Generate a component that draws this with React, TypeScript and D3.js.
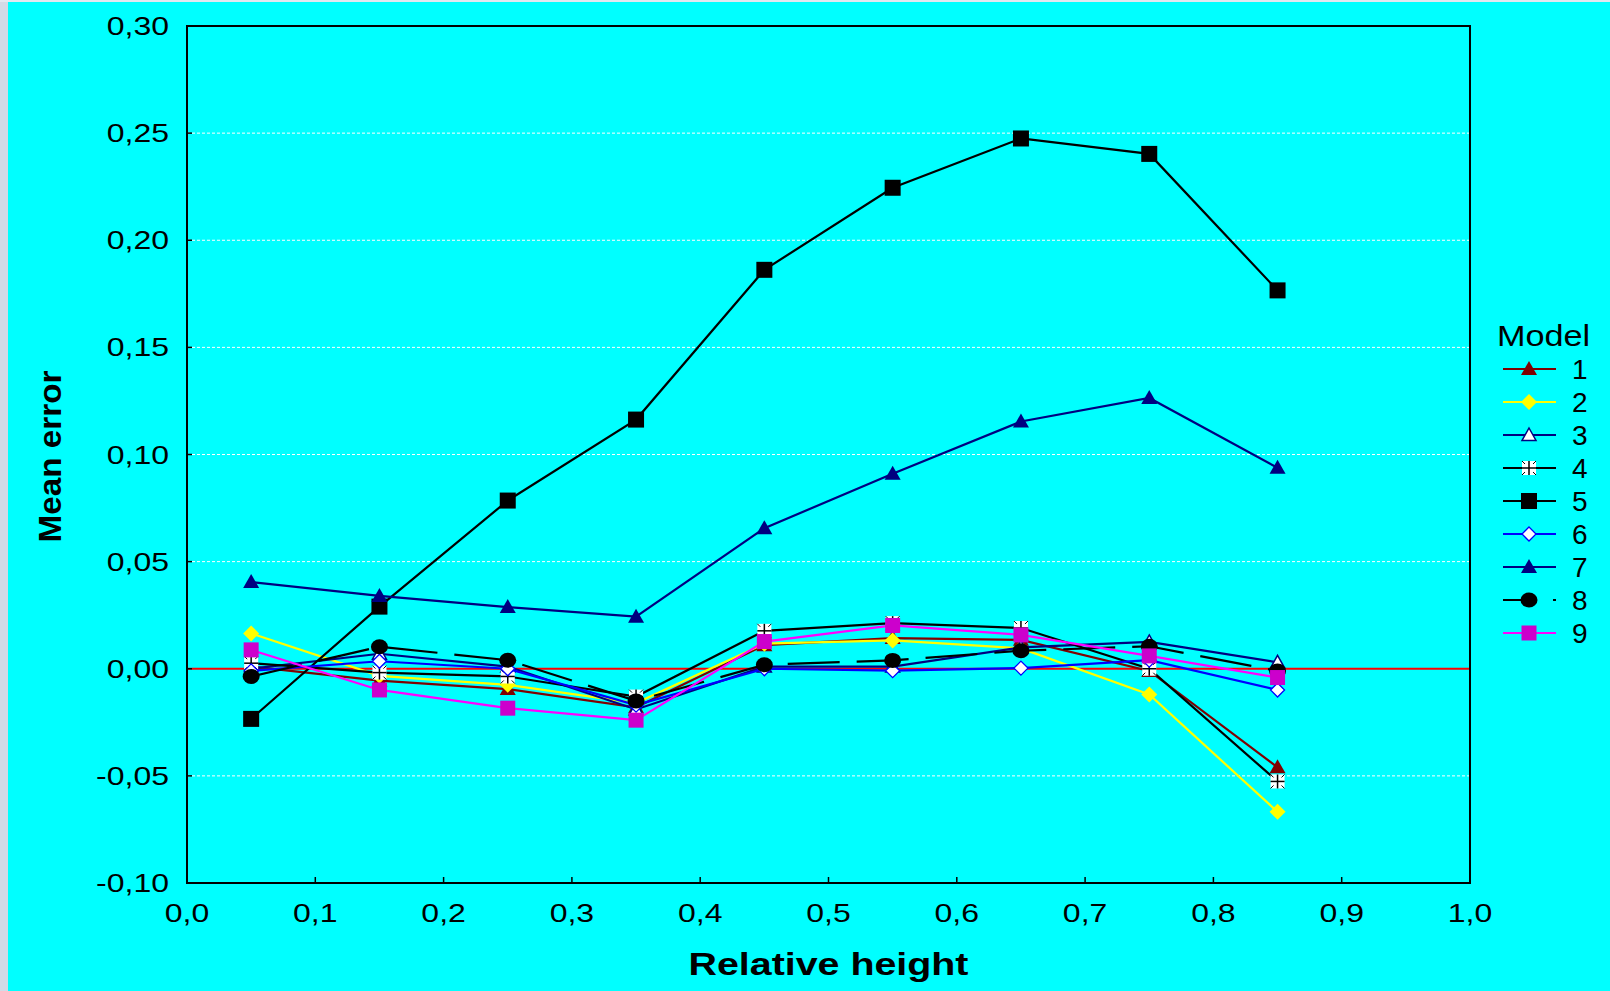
import React from "react";
import * as d3 from "d3";

// relative height positions where the models were evaluated
const heights = [0.05, 0.15, 0.25, 0.35, 0.45, 0.55, 0.65, 0.75, 0.85];

// mean error per model
const model1 = [0.001, -0.0055, -0.0095, -0.018, 0.011, 0.0143, 0.0135, -0.001, -0.046];
const model2 = [0.0165, -0.0033, -0.0075, -0.016, 0.0117, 0.0132, 0.0095, -0.012, -0.0668];
const model3 = [0.0, 0.007, 0.001, -0.019, 0.001, 0.001, 0.01, 0.0125, 0.003];
const model4 = [0.0026, -0.0018, -0.0036, -0.013, 0.0177, 0.0213, 0.019, 0.0, -0.0526];
const model5 = [-0.0234, 0.029, 0.0785, 0.1163, 0.1862, 0.2245, 0.2475, 0.2403, 0.1766];
const model6 = [-0.001, 0.0035, 0.0, -0.017, 0.0, -0.0009, 0.0003, 0.004, -0.0099];
const model7 = [0.0405, 0.034, 0.0288, 0.0243, 0.0656, 0.091, 0.1154, 0.1264, 0.0938];
const model8 = [-0.0036, 0.0103, 0.004, -0.015, 0.0019, 0.0039, 0.0084, 0.0105, -0.001];
const model9 = [0.0088, -0.0099, -0.0184, -0.024, 0.0127, 0.0202, 0.0158, 0.006, -0.0041];

const modelNames = ["1", "2", "3", "4", "5", "6", "7", "8", "9"];
const yTicks = [-0.1, -0.05, 0, 0.05, 0.1, 0.15, 0.2, 0.25, 0.3];
const xTicks = [0, 0.1, 0.2, 0.3, 0.4, 0.5, 0.6, 0.7, 0.8, 0.9, 1.0];

const series = [
  { name: modelNames[0], values: model1, color: "#800000", marker: "triFill", fill: "#800000" },
  { name: modelNames[1], values: model2, color: "#FFFF00", marker: "diamond", fill: "#FFFF00" },
  { name: modelNames[2], values: model3, color: "#000080", marker: "triOpen", fill: "#FFFFFF" },
  { name: modelNames[3], values: model4, color: "#000000", marker: "star", fill: "#FFFFFF" },
  { name: modelNames[4], values: model5, color: "#000000", marker: "square", fill: "#000000" },
  { name: modelNames[5], values: model6, color: "#0000FF", marker: "diamondOpen", fill: "#FFFFFF" },
  { name: modelNames[6], values: model7, color: "#000080", marker: "triFill", fill: "#000080" },
  { name: modelNames[7], values: model8, color: "#000000", marker: "circle", fill: "#000000", dash: "52,17" },
  { name: modelNames[8], values: model9, color: "#FF00FF", marker: "squareM", fill: "#CC00CC" },
];

const W = 1610;
const H = 991;
const margin = { top: 26, right: 140, bottom: 108, left: 187 };
const font = "'Liberation Sans', Arial, sans-serif";
const stretch = 1.28; // the original text is drawn wider than plain Arial

const locale = d3.formatLocale({
  decimal: ",",
  thousands: ".",
  grouping: [3],
  currency: ["", ""],
  minus: "-",
});
const fmtY = locale.format(".2f");
const fmtX = locale.format(".1f");

const Marker = ({ type, x, y, color, fill }) => {
  if (type === "square") {
    return <rect x={x - 8} y={y - 8} width={16} height={16} fill={fill} />;
  }
  if (type === "squareM") {
    return <rect x={x - 7.5} y={y - 7.5} width={15} height={15} fill={fill} />;
  }
  if (type === "circle") {
    return <ellipse cx={x} cy={y} rx={8.5} ry={7.5} fill={fill} />;
  }
  if (type === "triFill") {
    return <path d={`M${x},${y - 8}L${x + 8},${y + 6}L${x - 8},${y + 6}Z`} fill={fill} />;
  }
  if (type === "triOpen") {
    return (
      <path d={`M${x},${y - 7}L${x + 7},${y + 5.5}L${x - 7},${y + 5.5}Z`} fill="#fff" stroke={color} strokeWidth={1.5} />
    );
  }
  if (type === "diamond") {
    return <path d={`M${x},${y - 8}L${x + 8},${y}L${x},${y + 8}L${x - 8},${y}Z`} fill={fill} />;
  }
  if (type === "diamondOpen") {
    return (
      <path d={`M${x},${y - 7}L${x + 7},${y}L${x},${y + 7}L${x - 7},${y}Z`} fill="#fff" stroke={color} strokeWidth={1.3} />
    );
  }
  // asterisk style marker
  return (
    <g stroke="#000">
      <rect x={x - 7} y={y - 7} width={14} height={14} fill="#fff" stroke="none" />
      <line x1={x} y1={y - 7} x2={x} y2={y + 7} strokeWidth={1.5} />
      <line x1={x - 7} y1={y} x2={x + 7} y2={y} strokeWidth={1.5} />
      <line x1={x - 7} y1={y - 7} x2={x - 4} y2={y - 4} strokeWidth={1} />
      <line x1={x + 7} y1={y - 7} x2={x + 4} y2={y - 4} strokeWidth={1} />
      <line x1={x - 7} y1={y + 7} x2={x - 4} y2={y + 4} strokeWidth={1} />
      <line x1={x + 7} y1={y + 7} x2={x + 4} y2={y + 4} strokeWidth={1} />
    </g>
  );
};

export default function App() {
  const x = d3.scaleLinear().domain([0, 1]).range([margin.left, W - margin.right]);
  const y = d3.scaleLinear().domain([-0.1, 0.3]).range([H - margin.bottom, margin.top]);

  const line = d3
    .line<number>()
    .x((_, i) => x(heights[i]))
    .y((d) => y(d));

  const legendX = 1503;
  const legendY0 = 369;
  const legendStep = 33;

  return (
    <div style={{ position: "absolute", left: 0, top: 0 }}>
      <svg width={W} height={H} style={{ display: "block", fontFamily: font }}>
        <rect x={0} y={0} width={W} height={H} fill="#00FFFF" />
        <rect x={0} y={0} width={8} height={H} fill="#d3dae6" />
        <rect x={0} y={0} width={W} height={2} fill="#e3e8f0" />

        {/* grid */}
        {yTicks
          .filter((t) => Math.abs(t) > 1e-9 && t < 0.29)
          .map((t) => (
            <line
              key={"g" + t}
              x1={x(0)}
              x2={x(1)}
              y1={y(t)}
              y2={y(t)}
              stroke="#ffffff"
              strokeWidth={1}
              strokeDasharray="3,2"
            />
          ))}
        <line x1={x(0)} x2={x(1)} y1={y(0)} y2={y(0)} stroke="#FF0000" strokeWidth={2} />

        {/* series */}
        {series.map((s) => (
          <g key={s.name}>
            <path
              d={line(s.values) || ""}
              fill="none"
              stroke={s.color}
              strokeWidth={2.2}
              strokeDasharray={s.dash}
            />
            {s.values.map((v, i) => (
              <Marker key={i} type={s.marker} x={x(heights[i])} y={y(v)} color={s.color} fill={s.fill} />
            ))}
          </g>
        ))}

        {/* plot frame */}
        <rect
          x={x(0)}
          y={y(0.3)}
          width={x(1) - x(0)}
          height={y(-0.1) - y(0.3)}
          fill="none"
          stroke="#000"
          strokeWidth={2}
        />

        {/* y axis */}
        {yTicks.map((t) => (
          <g key={"y" + t}>
            <line x1={x(0)} x2={x(0) + 5} y1={y(t)} y2={y(t)} stroke="#000" strokeWidth={1.5} />
            <text
              transform={`translate(169,${y(t)}) scale(${stretch},1)`}
              dy="0.36em"
              textAnchor="end"
              fontSize={25}
              fill="#000"
            >
              {fmtY(t)}
            </text>
          </g>
        ))}

        {/* x axis */}
        {xTicks.map((t) => (
          <g key={"x" + t}>
            <line x1={x(t)} x2={x(t)} y1={y(-0.1)} y2={y(-0.1) - 6} stroke="#000" strokeWidth={1.5} />
            <text
              transform={`translate(${x(t)},922) scale(${stretch},1)`}
              textAnchor="middle"
              fontSize={25}
              fill="#000"
            >
              {fmtX(t)}
            </text>
          </g>
        ))}

        <text
          transform={`translate(${(x(0) + x(1)) / 2},975) scale(1.23,1)`}
          textAnchor="middle"
          fontSize={32}
          fontWeight="bold"
          fill="#000"
        >
          Relative height
        </text>
        <text
          transform={`translate(61,${(y(0.3) + y(-0.1)) / 2 + 2}) rotate(-90) scale(1.04,1)`}
          textAnchor="middle"
          fontSize={32}
          fontWeight="bold"
          fill="#000"
        >
          Mean error
        </text>

        {/* legend */}
        <text transform="translate(1497,346) scale(1.18,1)" fontSize={29} fill="#000">
          Model
        </text>
        {series.map((s, i) => {
          const ly = legendY0 + i * legendStep;
          return (
            <g key={"l" + s.name}>
              {s.dash ? (
                <>
                  <line x1={legendX} x2={legendX + 26} y1={ly} y2={ly} stroke={s.color} strokeWidth={2} />
                  <line x1={legendX + 50} x2={legendX + 53} y1={ly} y2={ly} stroke={s.color} strokeWidth={2} />
                </>
              ) : (
                <line x1={legendX} x2={legendX + 53} y1={ly} y2={ly} stroke={s.color} strokeWidth={2} />
              )}
              <Marker type={s.marker} x={legendX + 26} y={ly} color={s.color} fill={s.fill} />
              <text x={1572} y={ly} dy="0.36em" fontSize={28} fill="#000">
                {s.name}
              </text>
            </g>
          );
        })}
      </svg>
    </div>
  );
}
